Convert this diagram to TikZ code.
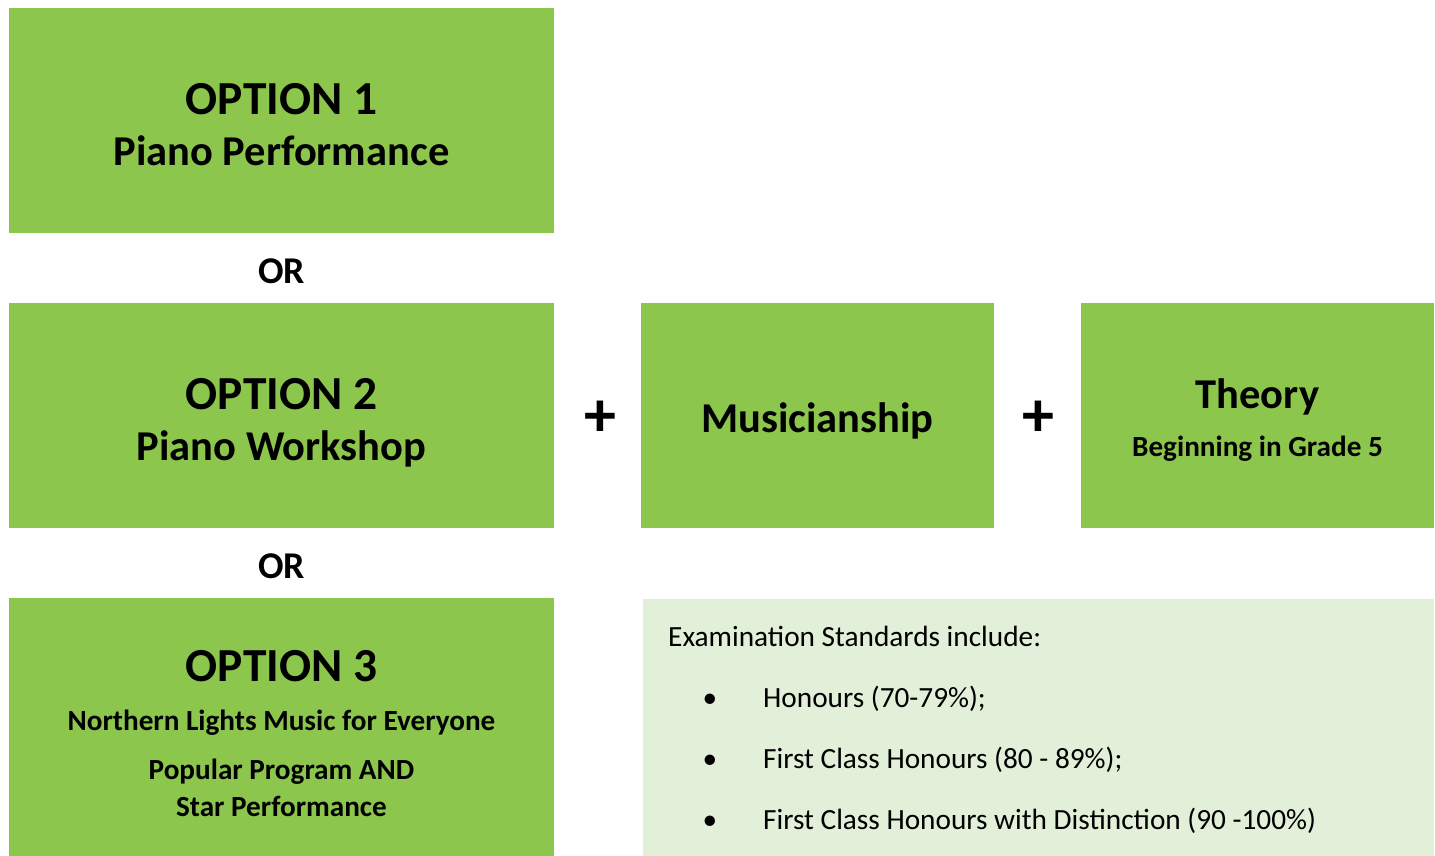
\documentclass[tikz,border=0pt]{standalone}
\usepackage{fontspec}
\setmainfont{Carlito}
\definecolor{gbox}{HTML}{8CC64C}
\definecolor{lbox}{HTML}{E2EFD9}
\begin{document}
\begin{tikzpicture}[x=1pt,y=-1pt,
  box/.style={fill=gbox, draw=none, inner sep=0pt, anchor=north west},
  lightbox/.style={fill=lbox, draw=none, inner sep=0pt, anchor=north west},
  txt/.style={inner sep=0pt, anchor=base, text=black},
  fopt/.style={txt, font=\fontsize{47.4}{50}\selectfont\bfseries},
  fsub/.style={txt, font=\fontsize{42.5}{46}\selectfont\bfseries},
  fsmall/.style={txt, font=\fontsize{29.2}{32}\selectfont\bfseries},
  f-or/.style={txt, font=\fontsize{37.8}{40}\selectfont\bfseries},
  fplus/.style={txt, font=\fontsize{64}{66}\selectfont\bfseries},
  freg/.style={txt, anchor=base west, font=\fontsize{29.3}{32}\selectfont},
  fbullet/.style={txt, font=\fontsize{29.3}{32}\selectfont}]
\useasboundingbox (0,0) rectangle (1435,856);
% boxes
\node[box, minimum width=545pt, minimum height=225pt] (b1) at (9,8) {};
\node[box, minimum width=545pt, minimum height=225pt] (b2) at (9,303) {};
\node[box, minimum width=545pt, minimum height=258pt] (b3) at (9,598) {};
\node[box, minimum width=353pt, minimum height=225pt] (bm) at (641,303) {};
\node[box, minimum width=353pt, minimum height=225pt] (bt) at (1081,303) {};
\node[lightbox, minimum width=791pt, minimum height=257pt] (bs) at (643,599) {};
% option 1
\node[fopt] (o1a) at (281.5,115) {OPTION 1};
\node[fsub] (o1b) at (281.5,165) {Piano Performance};
\node[f-or] (or1) at (281.5,283) {OR};
% option 2
\node[fopt] (o2a) at (281.5,409) {OPTION 2};
\node[fsub] (o2b) at (281.5,460) {Piano Workshop};
\node[f-or] (or2) at (281.5,578) {OR};
% option 3
\node[fopt] (o3a) at (281.5,681) {OPTION 3};
\node[fsmall] (o3b) at (281.5,730) {Northern Lights Music for Everyone};
\node[fsmall] (o3c) at (281.5,779) {Popular Program AND};
\node[fsmall] (o3d) at (281.5,816) {Star Performance};
% plus signs
\node[fplus] (p1) at (600,436) {+};
\node[fplus] (p2) at (1038,436) {+};
% musicianship, theory
\node[fsub] (mus) at (817.5,432) {Musicianship};
\node[fsub] (th) at (1257.5,408) {Theory};
\node[fsmall] (th2) at (1257.5,456) {Beginning in Grade 5};
% standards
\node[freg] (s0) at (668,646) {Examination Standards include:};
\node[fbullet] (d1) at (710,707) {•};
\node[freg] (s1) at (763,707) {Honours (70-79\%);};
\node[fbullet] (d2) at (710,768) {•};
\node[freg] (s2) at (763,768) {First Class Honours (80 - 89\%);};
\node[fbullet] (d3) at (710,829) {•};
\node[freg] (s3) at (763,829) {First Class Honours with Distinction (90 -100\%)};
\end{tikzpicture}
\end{document}
